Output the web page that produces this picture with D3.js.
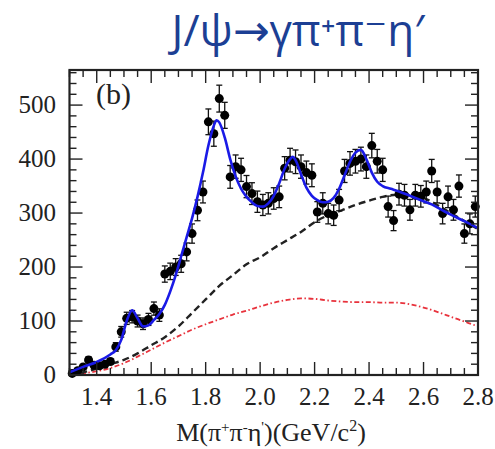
<!DOCTYPE html>
<html>
<head>
<meta charset="utf-8">
<script src="https://cdn.jsdelivr.net/npm/d3@7"></script>
<style>
  body { margin: 0; background: #fff; }
  svg text { font-family: "Liberation Serif", "DejaVu Serif", serif; fill: #222; }
</style>
</head>
<body>
<svg id="chart" width="495" height="449"></svg>
<script>
"use strict";

// bin centres (GeV/c^2) and event counts
var mass = d3.range(75).map(function(i) { return +(1.31 + i * 0.02).toFixed(2); });
var counts = [3, 8, 15, 28, 18, 17, 20, 25, 52, 80,
              105, 108, 100, 95, 103, 123, 111, 187, 192, 200,
              206, 228, 262, 305, 339, 469, 447, 512, 481, 367,
              386, 380, 349, 336, 321, 315, 318, 327, 330, 383,
              398, 395, 386, 375, 370, 302, 318, 299, 296, 324,
              378, 392, 396, 400, 386, 425, 396, 380, 312, 286,
              335, 333, 306, 333, 331, 339, 378, 339, 299, 330,
              306, 350, 262, 280, 312];

// total fit (blue)
var fitX = [1.30, 1.35, 1.40, 1.45, 1.47, 1.49, 1.51, 1.53, 1.55, 1.57,
            1.59, 1.61, 1.63, 1.65, 1.67, 1.69, 1.71, 1.73, 1.75, 1.77,
            1.79, 1.81, 1.83, 1.84, 1.85, 1.87, 1.89, 1.91, 1.93, 1.95,
            1.97, 1.99, 2.01, 2.03, 2.05, 2.07, 2.09, 2.11, 2.12, 2.13,
            2.15, 2.17, 2.19, 2.21, 2.23, 2.25, 2.27, 2.29, 2.31, 2.33,
            2.35, 2.37, 2.39, 2.41, 2.43, 2.45, 2.48, 2.51, 2.55, 2.60,
            2.63, 2.67, 2.70, 2.75, 2.80];
var fitY = [5, 15, 24, 38, 46, 65, 100, 120, 105, 90,
            92, 102, 113, 130, 155, 185, 220, 255, 290, 330,
            375, 425, 462, 472, 468, 440, 400, 368, 345, 330,
            320, 313, 312, 318, 332, 355, 382, 400, 404, 398,
            372, 347, 332, 324, 320, 321, 328, 345, 370, 395,
            412, 417, 400, 375, 358, 350, 345, 340, 332, 322,
            316, 305, 297, 285, 272];

// background components
var bgX = [1.30, 1.35, 1.40, 1.45, 1.50, 1.55, 1.60, 1.65, 1.70, 1.75,
           1.80, 1.85, 1.90, 1.95, 2.00, 2.05, 2.10, 2.15, 2.20, 2.25,
           2.30, 2.35, 2.40, 2.45, 2.50, 2.55, 2.60, 2.65, 2.70, 2.75, 2.80];
var bgBlack = [0, 5, 12, 20, 28, 40, 55, 70, 90, 115,
               140, 165, 185, 205, 218, 235, 250, 265, 283, 296,
               305, 315, 323, 330, 334, 334, 328, 315, 300, 285, 270];
var bgRed = [0, 3, 7, 13, 22, 34, 47, 60, 72, 84,
             94, 103, 112, 119, 127, 134, 139, 142, 141, 138,
             136, 135, 135, 134, 134, 131, 125, 117, 108, 99, 90];

var xTicks = [1.4, 1.6, 1.8, 2.0, 2.2, 2.4, 2.6, 2.8];
var yTicks = [0, 100, 200, 300, 400, 500];


/*** scales ***/
var svg = d3.select("#chart");
var pLeft = 69.5, pRight = 478, pTop = 70, pBottom = 375;

var x = d3.scaleLinear().domain([1.3, 2.8]).range([pLeft, pRight]);
var y = d3.scaleLinear().domain([0, 565]).range([pBottom, pTop]);

//title
svg.append("text")
  .attr("x", 298).attr("y", 46)
  .attr("text-anchor", "middle")
  .style("font-family", "'Open Sans', 'DejaVu Sans', sans-serif")
  .style("font-size", "44px")
  .style("fill", "#1c3f94")
  .text("J/ψ→γπ⁺π⁻η′");

var plot = svg.append("g");

/*** curves ***/
var line = function(xs, ys) {
  return d3.line()
    .x(function(d, i) { return x(xs[i]); })
    .y(function(d) { return y(d); })
    .curve(d3.curveMonotoneX)(ys);
};

plot.append("path")
  .attr("d", line(bgX, bgRed))
  .attr("fill", "none")
  .attr("stroke", "#e8323c")
  .attr("stroke-width", 1.8)
  .attr("stroke-dasharray", "5,2.5,1.5,2.5");

plot.append("path")
  .attr("d", line(bgX, bgBlack))
  .attr("fill", "none")
  .attr("stroke", "#222")
  .attr("stroke-width", 2.4)
  .attr("stroke-dasharray", "7,4");

/*** data points with error bars ***/
var err = function(d) { return Math.sqrt(d) * 1.1; };

var pts = plot.selectAll("g.pt")
  .data(counts)
  .enter()
  .append("g")
  .attr("class", "pt");

pts.append("line")
  .attr("x1", function(d, i) { return x(mass[i]); })
  .attr("x2", function(d, i) { return x(mass[i]); })
  .attr("y1", function(d) { return y(Math.max(0, d - err(d))); })
  .attr("y2", function(d) { return y(d + err(d)); })
  .attr("stroke", "#111").attr("stroke-width", 1.3);

[-1, 1].forEach(function(s) {
  pts.append("line")
    .attr("x1", function(d, i) { return x(mass[i]) - 3; })
    .attr("x2", function(d, i) { return x(mass[i]) + 3; })
    .attr("y1", function(d) { return y(Math.max(0, d + s * err(d))); })
    .attr("y2", function(d) { return y(Math.max(0, d + s * err(d))); })
    .attr("stroke", "#111").attr("stroke-width", 1.3);
});

pts.append("circle")
  .attr("cx", function(d, i) { return x(mass[i]); })
  .attr("cy", function(d) { return y(d); })
  .attr("r", 4.5)
  .attr("fill", "#000");

// total fit on top
plot.append("path")
  .attr("d", line(fitX, fitY))
  .attr("fill", "none")
  .attr("stroke", "#1a1ae6")
  .attr("stroke-width", 2.6);

/*** frame and ticks (ROOT style, ticks inside on all sides) ***/
svg.append("rect")
  .attr("x", pLeft).attr("y", pTop)
  .attr("width", pRight - pLeft).attr("height", pBottom - pTop)
  .attr("fill", "none").attr("stroke", "#222").attr("stroke-width", 2.2);

var yMinor = d3.range(0, 561, 20);
var xMinor = d3.range(1.3, 2.801, 0.05);

var tickG = svg.append("g").attr("stroke", "#222").attr("stroke-width", 1.4);

yMinor.forEach(function(v) {
  var len = (v % 100 === 0) ? 13 : 7;
  tickG.append("line").attr("x1", pLeft).attr("x2", pLeft + len).attr("y1", y(v)).attr("y2", y(v));
  tickG.append("line").attr("x1", pRight).attr("x2", pRight - len).attr("y1", y(v)).attr("y2", y(v));
});

xMinor.forEach(function(v) {
  var major = Math.abs(Math.round(v * 5) - v * 5) < 1e-6;
  var len = major ? 13 : 7;
  tickG.append("line").attr("x1", x(v)).attr("x2", x(v)).attr("y1", pBottom).attr("y2", pBottom - len);
  tickG.append("line").attr("x1", x(v)).attr("x2", x(v)).attr("y1", pTop).attr("y2", pTop + len);
});

//tick labels
svg.selectAll("text.ylab")
  .data(yTicks)
  .enter()
  .append("text")
  .attr("class", "ylab")
  .attr("x", 56)
  .attr("y", function(d) { return y(d) + 8; })
  .attr("text-anchor", "end")
  .style("font-size", "25px")
  .text(function(d) { return d; });

svg.selectAll("text.xlab")
  .data(xTicks)
  .enter()
  .append("text")
  .attr("class", "xlab")
  .attr("x", function(d) { return x(d); })
  .attr("y", 405)
  .attr("text-anchor", "middle")
  .style("font-size", "25px")
  .text(function(d) { return d.toFixed(1); });

//axis title
var xt = svg.append("text")
  .attr("x", 271).attr("y", 441)
  .attr("text-anchor", "middle")
  .style("font-size", "26px");
xt.append("tspan").text("M(π");
xt.append("tspan").attr("dy", -9).style("font-size", "15px").text("+");
xt.append("tspan").attr("dy", 9).text("π");
xt.append("tspan").attr("dy", -9).style("font-size", "15px").text("-");
xt.append("tspan").attr("dy", 9).text("η");
xt.append("tspan").attr("dy", -9).style("font-size", "15px").text("'");
xt.append("tspan").attr("dy", 9).text(")(GeV/c");
xt.append("tspan").attr("dy", -10).style("font-size", "16px").text("2");
xt.append("tspan").attr("dy", 10).text(")");

svg.append("text")
  .attr("x", 96).attr("y", 104)
  .style("font-size", "30px")
  .text("(b)");
</script>
</body>
</html>
